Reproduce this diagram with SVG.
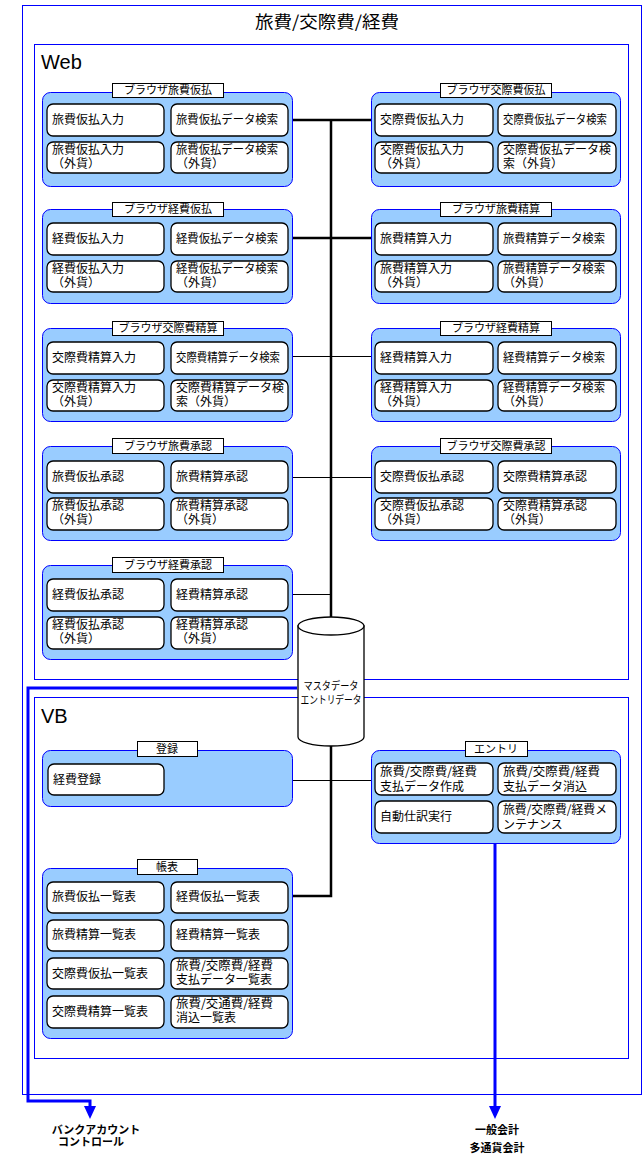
<svg xmlns="http://www.w3.org/2000/svg" width="644" height="1161" viewBox="0 0 644 1161">
<style>
.frame{fill:none;stroke:#0000ff;stroke-width:1}
.grp{fill:#99ccff;stroke:#0000ff;stroke-width:1}
.box{fill:#fff;stroke:#000;stroke-width:1.3}
.ttl{fill:#fff;stroke:#000;stroke-width:1}
.t{font-family:"Noto Sans CJK JP","Noto Sans CJK SC",sans-serif;font-size:12px;fill:#000}
.tt{font-family:"Noto Sans CJK JP","Noto Sans CJK SC",sans-serif;font-size:11px;fill:#000;text-anchor:middle}
.lbl{font-family:"Noto Sans CJK JP","Noto Sans CJK SC",sans-serif;font-size:11px;font-weight:bold;fill:#000;text-anchor:middle}
.thick{fill:none;stroke:#000;stroke-width:2.5}
.thin{fill:none;stroke:#000;stroke-width:1}
.blue{fill:none;stroke:#0000ff;stroke-width:3}
.big{font-family:"Liberation Sans",Arial,sans-serif;font-size:20px;fill:#000}
</style>
<defs>
<marker id="arr" markerUnits="userSpaceOnUse" markerWidth="14" markerHeight="13" refX="0" refY="6" orient="auto">
<path d="M0,0 L13,6 L0,12 z" fill="#0000ff"/>
</marker>
</defs>
<rect width="644" height="1161" fill="#fff"/>
<g id="frames">
<rect class="frame" x="22.5" y="5.5" width="619" height="1089"/>
<text x="327" y="28" text-anchor="middle" font-family="'Noto Sans CJK JP',sans-serif" font-size="17" textLength="144" lengthAdjust="spacingAndGlyphs">旅費/交際費/経費</text>
<rect class="frame" x="34.5" y="44.5" width="594" height="635"/>
<text class="big" x="41" y="69">Web</text>
<rect class="frame" x="34.5" y="697.5" width="594" height="361"/>
<text class="big" x="41" y="723">VB</text>
</g>
<g id="connectors">
<path class="thick" d="M331,120 V618 M331,745 V896 H292"/>
<path class="thick" d="M292,120 H371 M292,238 H371"/>
<path class="thin" d="M292,356.5 H371 M292,477.5 H371 M292,594.5 H331 M292,780.5 H371"/>
<path class="blue" d="M297,688 H28 V1101 H90 V1106" marker-end="url(#arr)"/>
<path class="blue" d="M495,843 V1106" marker-end="url(#arr)"/>
</g>
<g id="g-travel-advance">
<rect class="grp" x="42.5" y="92.5" width="250" height="94" rx="8"/>
<rect class="ttl" x="112.5" y="83.5" width="111" height="14"/>
<text class="tt" x="168" y="94">ブラウザ旅費仮払</text>
<rect class="box" x="47" y="104" width="117" height="32" rx="6"/>
<text class="t" x="52" y="124">旅費仮払入力</text>
<rect class="box" x="171" y="104" width="117" height="32" rx="6"/>
<text class="t" x="176" y="124" textLength="102" lengthAdjust="spacingAndGlyphs">旅費仮払データ検索</text>
<rect class="box" x="47" y="142" width="117" height="31" rx="6"/>
<text class="t"><tspan x="52" y="154">旅費仮払入力</tspan><tspan x="52" y="168">（外貨）</tspan></text>
<rect class="box" x="171" y="142" width="117" height="31" rx="6"/>
<text class="t"><tspan x="176" y="154" textLength="102" lengthAdjust="spacingAndGlyphs">旅費仮払データ検索</tspan><tspan x="176" y="168">（外貨）</tspan></text>
</g>
<g id="g-entertain-advance">
<rect class="grp" x="371.5" y="92.5" width="249" height="94" rx="8"/>
<rect class="ttl" x="440.5" y="83.5" width="111" height="14"/>
<text class="tt" x="496" y="94">ブラウザ交際費仮払</text>
<rect class="box" x="375" y="104" width="118" height="32" rx="6"/>
<text class="t" x="380" y="124">交際費仮払入力</text>
<rect class="box" x="498" y="104" width="118" height="32" rx="6"/>
<text class="t" x="503" y="124" textLength="104" lengthAdjust="spacingAndGlyphs">交際費仮払データ検索</text>
<rect class="box" x="375" y="142" width="118" height="31" rx="6"/>
<text class="t"><tspan x="380" y="154">交際費仮払入力</tspan><tspan x="380" y="168">（外貨）</tspan></text>
<rect class="box" x="498" y="142" width="118" height="31" rx="6"/>
<text class="t"><tspan x="503" y="154">交際費仮払データ検</tspan><tspan x="503" y="168">索（外貨）</tspan></text>
</g>
<g id="g-expense-advance">
<rect class="grp" x="42.5" y="209.5" width="250" height="94" rx="8"/>
<rect class="ttl" x="112.5" y="202.5" width="111" height="14"/>
<text class="tt" x="168" y="213">ブラウザ経費仮払</text>
<rect class="box" x="47" y="223" width="117" height="32" rx="6"/>
<text class="t" x="52" y="243">経費仮払入力</text>
<rect class="box" x="171" y="223" width="117" height="32" rx="6"/>
<text class="t" x="176" y="243" textLength="102" lengthAdjust="spacingAndGlyphs">経費仮払データ検索</text>
<rect class="box" x="47" y="261" width="117" height="31" rx="6"/>
<text class="t"><tspan x="52" y="273">経費仮払入力</tspan><tspan x="52" y="287">（外貨）</tspan></text>
<rect class="box" x="171" y="261" width="117" height="31" rx="6"/>
<text class="t"><tspan x="176" y="273" textLength="102" lengthAdjust="spacingAndGlyphs">経費仮払データ検索</tspan><tspan x="176" y="287">（外貨）</tspan></text>
</g>
<g id="g-travel-settle">
<rect class="grp" x="371.5" y="209.5" width="249" height="94" rx="8"/>
<rect class="ttl" x="440.5" y="202.5" width="111" height="14"/>
<text class="tt" x="496" y="213">ブラウザ旅費精算</text>
<rect class="box" x="375" y="223" width="118" height="32" rx="6"/>
<text class="t" x="380" y="243">旅費精算入力</text>
<rect class="box" x="498" y="223" width="118" height="32" rx="6"/>
<text class="t" x="503" y="243" textLength="102" lengthAdjust="spacingAndGlyphs">旅費精算データ検索</text>
<rect class="box" x="375" y="261" width="118" height="31" rx="6"/>
<text class="t"><tspan x="380" y="273">旅費精算入力</tspan><tspan x="380" y="287">（外貨）</tspan></text>
<rect class="box" x="498" y="261" width="118" height="31" rx="6"/>
<text class="t"><tspan x="503" y="273" textLength="102" lengthAdjust="spacingAndGlyphs">旅費精算データ検索</tspan><tspan x="503" y="287">（外貨）</tspan></text>
</g>
<g id="g-entertain-settle">
<rect class="grp" x="42.5" y="328.5" width="250" height="93" rx="8"/>
<rect class="ttl" x="112.5" y="321.5" width="111" height="14"/>
<text class="tt" x="168" y="332">ブラウザ交際費精算</text>
<rect class="box" x="47" y="342" width="117" height="32" rx="6"/>
<text class="t" x="52" y="362">交際費精算入力</text>
<rect class="box" x="171" y="342" width="117" height="32" rx="6"/>
<text class="t" x="176" y="362" textLength="104" lengthAdjust="spacingAndGlyphs">交際費精算データ検索</text>
<rect class="box" x="47" y="380" width="117" height="31" rx="6"/>
<text class="t"><tspan x="52" y="392">交際費精算入力</tspan><tspan x="52" y="406">（外貨）</tspan></text>
<rect class="box" x="171" y="380" width="117" height="31" rx="6"/>
<text class="t"><tspan x="176" y="392">交際費精算データ検</tspan><tspan x="176" y="406">索（外貨）</tspan></text>
</g>
<g id="g-expense-settle">
<rect class="grp" x="371.5" y="328.5" width="249" height="93" rx="8"/>
<rect class="ttl" x="440.5" y="321.5" width="111" height="14"/>
<text class="tt" x="496" y="332">ブラウザ経費精算</text>
<rect class="box" x="375" y="342" width="118" height="32" rx="6"/>
<text class="t" x="380" y="362">経費精算入力</text>
<rect class="box" x="498" y="342" width="118" height="32" rx="6"/>
<text class="t" x="503" y="362" textLength="102" lengthAdjust="spacingAndGlyphs">経費精算データ検索</text>
<rect class="box" x="375" y="380" width="118" height="31" rx="6"/>
<text class="t"><tspan x="380" y="392">経費精算入力</tspan><tspan x="380" y="406">（外貨）</tspan></text>
<rect class="box" x="498" y="380" width="118" height="31" rx="6"/>
<text class="t"><tspan x="503" y="392" textLength="102" lengthAdjust="spacingAndGlyphs">経費精算データ検索</tspan><tspan x="503" y="406">（外貨）</tspan></text>
</g>
<g id="g-travel-approve">
<rect class="grp" x="42.5" y="446.5" width="250" height="94" rx="8"/>
<rect class="ttl" x="112.5" y="438.5" width="111" height="15"/>
<text class="tt" x="168" y="450">ブラウザ旅費承認</text>
<rect class="box" x="47" y="461" width="117" height="32" rx="6"/>
<text class="t" x="52" y="481">旅費仮払承認</text>
<rect class="box" x="171" y="461" width="117" height="32" rx="6"/>
<text class="t" x="176" y="481">旅費精算承認</text>
<rect class="box" x="47" y="498" width="117" height="32" rx="6"/>
<text class="t"><tspan x="52" y="510">旅費仮払承認</tspan><tspan x="52" y="524">（外貨）</tspan></text>
<rect class="box" x="171" y="498" width="117" height="32" rx="6"/>
<text class="t"><tspan x="176" y="510">旅費精算承認</tspan><tspan x="176" y="524">（外貨）</tspan></text>
</g>
<g id="g-entertain-approve">
<rect class="grp" x="371.5" y="446.5" width="249" height="94" rx="8"/>
<rect class="ttl" x="440.5" y="438.5" width="111" height="15"/>
<text class="tt" x="496" y="450">ブラウザ交際費承認</text>
<rect class="box" x="375" y="461" width="118" height="32" rx="6"/>
<text class="t" x="380" y="481">交際費仮払承認</text>
<rect class="box" x="498" y="461" width="118" height="32" rx="6"/>
<text class="t" x="503" y="481">交際費精算承認</text>
<rect class="box" x="375" y="498" width="118" height="32" rx="6"/>
<text class="t"><tspan x="380" y="510">交際費仮払承認</tspan><tspan x="380" y="524">（外貨）</tspan></text>
<rect class="box" x="498" y="498" width="118" height="32" rx="6"/>
<text class="t"><tspan x="503" y="510">交際費精算承認</tspan><tspan x="503" y="524">（外貨）</tspan></text>
</g>
<g id="g-expense-approve">
<rect class="grp" x="42.5" y="565.5" width="250" height="94" rx="8"/>
<rect class="ttl" x="112.5" y="557.5" width="111" height="15"/>
<text class="tt" x="168" y="569">ブラウザ経費承認</text>
<rect class="box" x="47" y="579" width="117" height="32" rx="6"/>
<text class="t" x="52" y="599">経費仮払承認</text>
<rect class="box" x="171" y="579" width="117" height="32" rx="6"/>
<text class="t" x="176" y="599">経費精算承認</text>
<rect class="box" x="47" y="617" width="117" height="32" rx="6"/>
<text class="t"><tspan x="52" y="629">経費仮払承認</tspan><tspan x="52" y="643">（外貨）</tspan></text>
<rect class="box" x="171" y="617" width="117" height="32" rx="6"/>
<text class="t"><tspan x="176" y="629">経費精算承認</tspan><tspan x="176" y="643">（外貨）</tspan></text>
</g>
<g id="g-database">
<path d="M298,626 V737 A33,9 0 0 0 364,737 V626 Z" fill="#fff" stroke="#000" stroke-width="1.3"/>
<ellipse cx="331" cy="626" rx="33" ry="9" fill="#fff" stroke="#000" stroke-width="1.3"/>
<text class="tt"><tspan x="331" y="690" textLength="55" lengthAdjust="spacingAndGlyphs">マスタデータ</tspan><tspan x="331" y="704" textLength="61" lengthAdjust="spacingAndGlyphs">エントリデータ</tspan></text>
</g>
<g id="g-register">
<rect class="grp" x="42.5" y="750.5" width="250" height="56" rx="8"/>
<rect class="ttl" x="137.5" y="741.5" width="60" height="15"/>
<text class="tt" x="167" y="753">登録</text>
<rect class="box" x="48" y="764" width="116" height="31" rx="6"/>
<text class="t" x="53" y="784">経費登録</text>
</g>
<g id="g-entry">
<rect class="grp" x="371.5" y="750.5" width="249" height="93" rx="8"/>
<rect class="ttl" x="465.5" y="741.5" width="62" height="15"/>
<text class="tt" x="496" y="753">エントリ</text>
<rect class="box" x="375" y="763" width="118" height="32" rx="6"/>
<text class="t"><tspan x="380" y="776" textLength="97" lengthAdjust="spacingAndGlyphs">旅費/交際費/経費</tspan><tspan x="380" y="791">支払データ作成</tspan></text>
<rect class="box" x="498" y="763" width="118" height="32" rx="6"/>
<text class="t"><tspan x="503" y="776" textLength="97" lengthAdjust="spacingAndGlyphs">旅費/交際費/経費</tspan><tspan x="503" y="791">支払データ消込</tspan></text>
<rect class="box" x="375" y="801" width="118" height="32" rx="6"/>
<text class="t" x="380" y="821">自動仕訳実行</text>
<rect class="box" x="498" y="801" width="118" height="32" rx="6"/>
<text class="t"><tspan x="503" y="814" textLength="104" lengthAdjust="spacingAndGlyphs">旅費/交際費/経費メ</tspan><tspan x="503" y="829">ンテナンス</tspan></text>
</g>
<g id="g-reports">
<rect class="grp" x="42.5" y="868.5" width="250" height="170" rx="8"/>
<rect class="ttl" x="137.5" y="859.5" width="60" height="15"/>
<text class="tt" x="167" y="871">帳表</text>
<rect class="box" x="47" y="882" width="117" height="31" rx="6"/>
<text class="t" x="52" y="901">旅費仮払一覧表</text>
<rect class="box" x="171" y="882" width="117" height="31" rx="6"/>
<text class="t" x="176" y="901">経費仮払一覧表</text>
<rect class="box" x="47" y="920" width="117" height="31" rx="6"/>
<text class="t" x="52" y="939">旅費精算一覧表</text>
<rect class="box" x="171" y="920" width="117" height="31" rx="6"/>
<text class="t" x="176" y="939">経費精算一覧表</text>
<rect class="box" x="47" y="958" width="117" height="31" rx="6"/>
<text class="t" x="52" y="978">交際費仮払一覧表</text>
<rect class="box" x="171" y="958" width="117" height="31" rx="6"/>
<text class="t"><tspan x="176" y="970" textLength="97" lengthAdjust="spacingAndGlyphs">旅費/交際費/経費</tspan><tspan x="176" y="984">支払データ一覧表</tspan></text>
<rect class="box" x="47" y="996" width="117" height="32" rx="6"/>
<text class="t" x="52" y="1016">交際費精算一覧表</text>
<rect class="box" x="171" y="996" width="117" height="32" rx="6"/>
<text class="t"><tspan x="176" y="1008" textLength="97" lengthAdjust="spacingAndGlyphs">旅費/交通費/経費</tspan><tspan x="176" y="1022">消込一覧表</tspan></text>
</g>
<g id="n-bank">
<text class="lbl"><tspan x="96" y="1134">バンクアカウント</tspan><tspan x="91" y="1146">コントロール</tspan></text>
</g>
<g id="n-gl">
<text class="lbl"><tspan x="497" y="1134">一般会計</tspan><tspan x="497" y="1152">多通貨会計</tspan></text>
</g>
</svg>
